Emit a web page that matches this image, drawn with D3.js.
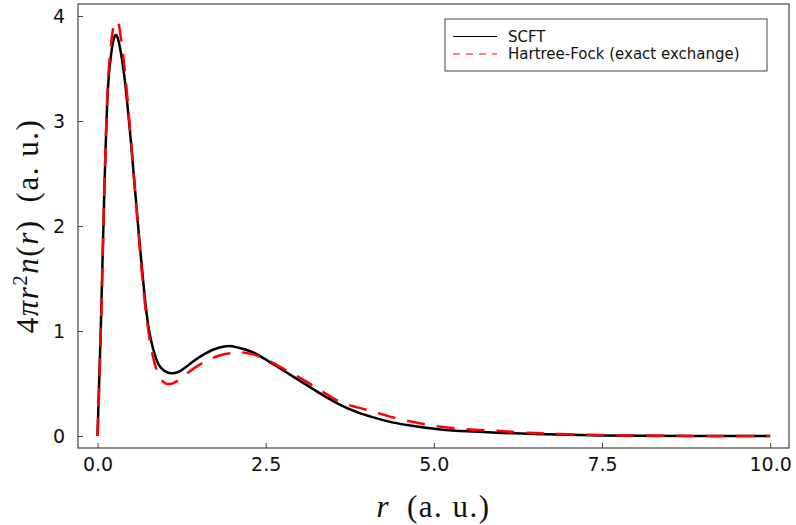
<!DOCTYPE html>
<html>
<head>
<meta charset="utf-8">
<script src="https://cdn.jsdelivr.net/npm/d3@7"></script>
<style>
  body { margin: 0; background: #fff; }
  svg { display: block; }
</style>
</head>
<body>
<svg id="chart"></svg>
<script>
// radial density 4*pi*r^2*n(r)
var scftR = [0, 0.05, 0.1, 0.15, 0.2, 0.25, 0.275, 0.3, 0.35, 0.4, 0.45, 0.5, 0.55, 0.6, 0.65, 0.7, 0.75, 0.8, 0.85, 0.9, 0.95, 1.0, 1.1, 1.2, 1.3, 1.4, 1.6, 1.8, 1.95, 2.1, 2.3, 2.6, 2.85, 3.1, 3.35, 3.6, 3.85, 4.1, 4.35, 4.6, 5.1, 5.6, 6.0, 6.5, 7.0, 7.5, 8.0, 9.0, 10.0];
var scftN = [0, 1.05, 2.3, 3.25, 3.62, 3.80, 3.82, 3.79, 3.64, 3.42, 3.12, 2.78, 2.40, 2.03, 1.67, 1.34, 1.07, 0.90, 0.78, 0.69, 0.645, 0.618, 0.597, 0.61, 0.65, 0.70, 0.785, 0.84, 0.857, 0.84, 0.80, 0.69, 0.59, 0.49, 0.39, 0.30, 0.23, 0.178, 0.135, 0.105, 0.063, 0.042, 0.030, 0.019, 0.011, 0.006, 0.003, 0.001, 0];

var hfR = [0, 0.05, 0.1, 0.15, 0.2, 0.25, 0.3, 0.35, 0.4, 0.45, 0.5, 0.55, 0.6, 0.65, 0.7, 0.75, 0.8, 0.85, 0.9, 0.95, 1.0, 1.05, 1.1, 1.2, 1.3, 1.4, 1.6, 1.8, 2.0, 2.15, 2.3, 2.6, 2.85, 3.1, 3.35, 3.6, 3.85, 4.1, 4.35, 4.6, 5.1, 5.6, 6.0, 6.5, 7.0, 7.5, 8.0, 9.0, 10.0];
var hfN = [0, 1.0, 2.3, 3.3, 3.72, 3.92, 3.95, 3.78, 3.52, 3.18, 2.80, 2.40, 2.00, 1.62, 1.29, 1.03, 0.83, 0.69, 0.595, 0.535, 0.505, 0.495, 0.498, 0.53, 0.58, 0.63, 0.71, 0.765, 0.79, 0.795, 0.78, 0.70, 0.61, 0.52, 0.42, 0.327, 0.275, 0.232, 0.185, 0.146, 0.089, 0.060, 0.047, 0.028, 0.016, 0.009, 0.005, 0.001, 0];

var xTicks = [0, 2.5, 5, 7.5, 10];
var yTicks = [0, 1, 2, 3, 4];
var seriesNames = ["SCFT", "Hartree-Fock (exact exchange)"];

var width = 796, height = 525;
var margin = { top: 4, right: 7, bottom: 77, left: 78 };

var svg = d3.select("#chart")
    .attr("width", width)
    .attr("height", height);

var x = d3.scaleLinear()
    .domain([-0.29, 10.28])
    .range([margin.left, width - margin.right]);

var y = d3.scaleLinear()
    .domain([-0.114, 4.114])
    .range([height - margin.bottom, margin.top]);

var frameColor = "#444";

// ticks point inward
svg.append("g")
    .attr("transform", "translate(0," + (height - margin.bottom) + ")")
    .call(d3.axisBottom(x).tickValues(xTicks).tickSizeInner(-5).tickSizeOuter(0).tickPadding(10)
        .tickFormat(d3.format(".1f")))
    .call(function (g) {
        g.select(".domain").remove();
        g.selectAll("line").attr("stroke", frameColor);
        g.selectAll("text").attr("font-family", "DejaVu Sans").attr("font-size", 19).attr("fill", "#111");
    });

svg.append("g")
    .attr("transform", "translate(" + margin.left + ",0)")
    .call(d3.axisLeft(y).tickValues(yTicks).tickSizeInner(-5).tickSizeOuter(0).tickPadding(13)
        .tickFormat(d3.format("d")))
    .call(function (g) {
        g.select(".domain").remove();
        g.selectAll("line").attr("stroke", frameColor);
        g.selectAll("text").attr("font-family", "DejaVu Sans").attr("font-size", 19).attr("fill", "#111");
    });

// frame
svg.append("rect")
    .attr("x", margin.left)
    .attr("y", margin.top)
    .attr("width", width - margin.left - margin.right)
    .attr("height", height - margin.top - margin.bottom)
    .attr("fill", "none")
    .attr("stroke", frameColor)
    .attr("stroke-width", 1.2);

var line = d3.line()
    .x(function (d) { return x(d[0]); })
    .y(function (d) { return y(d[1]); })
    .curve(d3.curveMonotoneX);

var scftData = d3.zip(scftR, scftN);
var hfData = d3.zip(hfR, hfN);

svg.append("path")
    .datum(scftData)
    .attr("d", line)
    .attr("fill", "none")
    .attr("stroke", "#000")
    .attr("stroke-width", 2.5);

svg.append("path")
    .datum(hfData)
    .attr("d", line)
    .attr("fill", "none")
    .attr("stroke", "#f00")
    .attr("stroke-width", 2.5)
    .attr("stroke-dasharray", "18,12");

// legend
var legend = svg.append("g").attr("transform", "translate(445,19)");
legend.append("rect")
    .attr("width", 322)
    .attr("height", 52)
    .attr("fill", "#fff")
    .attr("stroke", frameColor)
    .attr("stroke-width", 1);

var legendStyles = [
    { color: "#000", dash: null },
    { color: "#f00", dash: "7,6" }
];
seriesNames.forEach(function (name, i) {
    var yy = 17.5 + i * 17.5;
    legend.append("line")
        .attr("x1", 8).attr("x2", 52)
        .attr("y1", yy).attr("y2", yy)
        .attr("stroke", legendStyles[i].color)
        .attr("stroke-width", 1)
        .attr("stroke-dasharray", legendStyles[i].dash);
    legend.append("text")
        .attr("x", 63)
        .attr("y", yy + 5)
        .attr("font-family", "DejaVu Sans")
        .attr("font-size", 15)
        .attr("fill", "#111")
        .text(name);
});

// axis titles
svg.append("text")
    .attr("x", (margin.left + width - margin.right) / 2)
    .attr("y", 517)
    .attr("text-anchor", "middle")
    .attr("font-family", "Liberation Serif")
    .attr("font-size", 31)
    .attr("letter-spacing", 1.5)
    .attr("fill", "#111")
    .html('<tspan font-style="italic">r</tspan>\u2002(a. u.)');

svg.append("text")
    .attr("transform", "translate(38," + ((margin.top + height - margin.bottom) / 2) + ") rotate(-90)")
    .attr("text-anchor", "middle")
    .attr("font-family", "Liberation Serif")
    .attr("font-size", 31)
    .attr("letter-spacing", 1.5)
    .attr("fill", "#111")
    .html('4<tspan font-style="italic">\u03c0r</tspan><tspan dy="-11" font-size="21">2</tspan><tspan dy="11" font-style="italic">n</tspan>(<tspan font-style="italic">r</tspan>)\u2002(a. u.)');
</script>
</body>
</html>
